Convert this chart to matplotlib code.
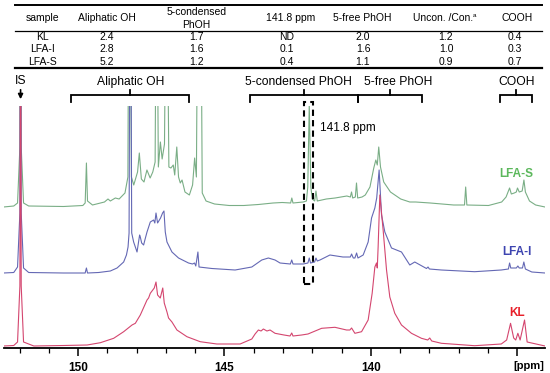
import matplotlib
matplotlib.use("Agg")
import matplotlib.pyplot as plt
from matplotlib.patches import Rectangle
from matplotlib.transforms import blended_transform_factory
from matplotlib.ticker import MultipleLocator, FixedLocator

plt.rcParams['font.family'] = ['Liberation Sans', 'DejaVu Sans']

# ---------------- table data ----------------
table_header = ["sample", "Aliphatic OH", "5-condensed\nPhOH", "141.8 ppm",
                "5-free PhOH", "Uncon. /Con.", "COOH"]
table_samples = ["KL", "LFA-I", "LFA-S"]
aliphatic_oh = ["2.4", "2.8", "5.2"]
condensed_phoh = ["1.7", "1.6", "1.2"]
ppm_141_8 = ["ND", "0.1", "0.4"]
free_phoh = ["2.0", "1.6", "1.1"]
uncon_con = ["1.2", "1.0", "0.9"]
cooh = ["0.4", "0.3", "0.7"]

# ---------------- spectra (ppm, intensity a.u.) ----------------
lfas_ppm = [152.55, 152.2, 152.07, 151.99, 151.967, 151.945, 151.865, 151.69, 150.5, 149.84,
            149.76, 149.717, 149.68, 149.51, 149.10, 148.98, 148.90, 148.73, 148.60, 148.40,
            148.30, 148.25, 148.18, 148.10, 147.97, 147.91, 147.84, 147.75, 147.65, 147.54,
            147.45, 147.37, 147.32, 147.26, 147.19, 147.13, 147.05, 146.98, 146.90, 146.83,
            146.75, 146.70, 146.63, 146.57, 146.51, 146.45, 146.35, 146.20, 146.09, 146.02,
            145.96, 145.90, 145.86, 145.82, 145.76, 145.63, 145.34, 144.84, 144.34, 143.84,
            143.34, 143.03, 142.74, 142.70, 142.66, 142.31, 142.20, 142.155, 142.104, 142.05,
            142.00, 141.92, 141.875, 141.83, 141.52, 141.22, 140.82, 140.70, 140.66, 140.62,
            140.53, 140.49, 140.45, 140.30, 140.19, 140.03, 139.90, 139.83, 139.78, 139.73,
            139.67, 139.56, 139.33, 138.98, 138.67, 138.47, 137.97, 137.17, 136.80, 136.76,
            136.72, 135.98, 135.53, 135.38, 135.26, 135.20, 135.10, 135.03, 134.99, 134.93,
            134.83, 134.77, 134.72, 134.58, 134.37, 134.05]
lfas_int = [0, 1, 4, 60, 400, 60, 4, 1, 0.5, 1.5,
            4, 44, 6, 2, 5, 8, 6, 9, 8, 14,
            30, 400, 30, 22, 35, 54, 28, 25, 37, 29,
            35, 45, 300, 40, 65, 48, 63, 300, 40, 39,
            42, 32, 60, 30, 24, 27, 15, 12, 22, 49,
            30, 300, 120, 300, 14, 6, 3, 1.5, 1.5, 2.5,
            4, 4.5, 4, 9, 4, 5, 6, 20, 103, 20,
            8, 6, 16, 6, 8, 9, 11, 10, 15, 9,
            10, 24, 9, 10, 12, 20, 39, 47, 42, 60,
            40, 25, 15, 8, 5, 5, 4, 2, 2, 20,
            2, 1.5, 5, 10, 19, 13, 14, 15, 19, 15,
            16, 27, 15, 6, 2, 0]

lfai_ppm = [152.55, 152.2, 152.07, 151.99, 151.967, 151.945, 151.865, 151.69, 150.5, 149.76,
            149.717, 149.68, 149.3, 148.9, 148.67, 148.445, 148.35, 148.295, 148.26, 148.217,
            148.17, 148.104, 147.988, 147.900, 147.876, 147.83, 147.763, 147.72, 147.647, 147.535,
            147.422, 147.38, 147.340, 147.286, 147.184, 147.115, 147.068, 147.023, 146.965, 146.795,
            146.570, 146.229, 146.092, 146.024, 145.98, 145.908, 145.87, 145.431, 144.637, 144.067,
            143.726, 143.501, 143.273, 143.102, 142.75, 142.703, 142.66, 142.308, 142.15, 142.104,
            142.06, 141.92, 141.875, 141.83, 141.738, 141.398, 140.954, 140.70, 140.658, 140.60,
            140.545, 140.487, 140.44, 140.262, 140.092, 139.976, 139.863, 139.80, 139.717, 139.635,
            139.522, 139.294, 138.953, 138.670, 138.500, 138.10, 138.046, 138.0, 137.589, 136.454,
            135.544, 135.30, 135.260, 135.22, 135.03, 134.977, 134.93, 134.82, 134.773, 134.72,
            134.5, 134.05]
lfai_int = [0, 0.5, 6, 60, 400, 60, 5, 0.5, 0, 0,
            5, 0, 0.5, 2, 5, 11, 18, 26, 40, 400,
            40, 31, 21, 38, 36, 30, 28, 33, 41, 51,
            53, 50, 60, 50, 55, 60, 62, 41, 31, 21,
            15, 10, 9, 10, 7, 21, 6, 4.5, 3, 6,
            13, 15, 13, 10, 9, 13, 9, 9, 10, 15,
            10, 11, 15, 12, 13, 18, 16, 16, 19, 15,
            15, 20, 15, 18, 31, 55, 65, 75, 103, 58,
            41, 25, 21, 8, 11, 4.5, 6, 4, 3, 1.3,
            3, 4, 10, 5, 5, 7, 5, 5, 11, 4,
            1, 0]

kl_ppm = [152.55, 152.2, 152.07, 151.99, 151.967, 151.945, 151.865, 151.514, 150.5, 149.693,
          149.240, 148.786, 148.445, 148.159, 148.046, 147.876, 147.647, 147.593, 147.535, 147.399,
          147.340, 147.286, 147.194, 147.109, 147.058, 146.965, 146.911, 146.795, 146.625, 146.283,
          145.830, 145.261, 144.466, 144.067, 143.955, 143.842, 143.75, 143.672, 143.55, 143.443,
          143.273, 142.966, 142.761, 142.703, 142.66, 142.363, 142.148, 141.681, 141.227, 140.830,
          140.716, 140.658, 140.545, 140.317, 140.092, 139.955, 139.863, 139.806, 139.78, 139.751,
          139.693, 139.580, 139.464, 139.352, 139.182, 138.953, 138.612, 138.271, 138.056, 137.988,
          137.92, 137.589, 136.454, 135.544, 135.36, 135.227, 135.12, 135.05, 134.977, 134.90,
          134.749, 134.66, 134.05]
kl_int = [0, 0.5, 4, 60, 400, 60, 4, 0, 0.5, 1,
          3.3, 7.7, 14.3, 21, 22.7, 31, 46, 48, 52.7, 58,
          64, 51, 48, 58, 43, 34, 28, 24, 16, 9.3,
          4.3, 2, 2, 7, 12, 16, 15, 17, 15, 16,
          12.7, 11, 10, 13, 10, 11, 12, 17.7, 18.7, 16,
          16, 18, 12.7, 14.3, 26, 52.7, 79, 83, 78, 99,
          151, 116, 76, 49, 32.7, 21, 12.7, 7.7, 6, 8,
          5, 2.7, 0.3, 2, 6, 22.7, 8, 6, 12.7, 6,
          26, 4, 0]

spectra = [("LFA-S", lfas_ppm, lfas_int, 141, "#7aae86", "#5cb85c"),
           ("LFA-I", lfai_ppm, lfai_int, 75, "#6468b4", "#3d44b0"),
           ("KL", kl_ppm, kl_int, 2, "#d4466f", "#e8202a")]

# region name, left ppm, right ppm, label centre ppm
regions = [("Aliphatic OH", 150.24, 146.21, 148.22), ("5-condensed PhOH", 144.13, 140.44, 142.47),
           ("5-free PhOH", 140.44, 138.26, 139.06), ("COOH", 135.60, 134.51, 135.02)]
is_ppm = 151.967
marker_ppm = (142.29, 141.98)

W, H = 550, 373
fig = plt.figure(figsize=(W / 100, H / 100), dpi=100)

def fx(px):
    return px / W

def fy(py):
    return 1 - py / H

ax = fig.add_axes([fx(3.5), fy(348), fx(545) - fx(3.5), fy(106) - fy(348)])
ax.set_xlim(152.55, 134.05)
ax.set_ylim(0, 242)

for name, ppm, inten, off, lc, tc in spectra:
    ax.plot(ppm, [off + v for v in inten], color=lc, lw=0.8, zorder=2)

label_y = {"LFA-S": 173.7, "LFA-I": 96.3, "KL": 35.3}
for name, ppm, inten, off, lc, tc in spectra:
    ax.text(135.02, label_y[name], name, color=tc, fontsize=8.5, fontweight='bold',
            ha='center', va='center')

for s in ['left', 'right', 'top']:
    ax.spines[s].set_visible(False)
ax.spines['bottom'].set_linewidth(1.3)
ax.set_yticks([])
ax.xaxis.set_major_locator(FixedLocator([150, 145, 140, 135]))
ax.set_xticklabels(['150', '145', '140', ''])
ax.xaxis.set_minor_locator(MultipleLocator(1))
ax.tick_params(axis='x', which='major', length=6, width=1.1, direction='out', pad=4,
               labelsize=8.5)
ax.tick_params(axis='x', which='minor', length=3.5, width=0.9, direction='out')
for lab in ax.get_xticklabels():
    lab.set_fontweight('bold')
fig.text(fx(529), fy(366), "[ppm]", fontsize=8, fontweight='bold', ha='center', va='center')

# dashed marker box
rect = Rectangle((marker_ppm[0], 64), marker_ppm[1] - marker_ppm[0], 245.7 - 64,
                 fill=False, ls=(0, (3, 2)), lw=1.5, ec='black', clip_on=False, zorder=3)
ax.add_patch(rect)
ax.text(141.74, 220, "141.8 ppm", fontsize=8.5, ha='left', va='center')

# brackets
tr = blended_transform_factory(ax.transData, fig.transFigure)
for name, a, b, c in regions:
    yb, yd, yt = fy(95), fy(102), fy(90)
    ax.plot([a, a, b, b], [yd, yb, yb, yd], color='black', lw=1.3, transform=tr,
            clip_on=False, solid_joinstyle='miter')
    m = (a + b) / 2
    ax.plot([m, m], [yb, yt], color='black', lw=1.3, transform=tr, clip_on=False)
    ax.text(c, fy(82), name, fontsize=8.7, ha='center', va='center', transform=tr)

# IS arrow
ax.annotate("", xy=(is_ppm, fy(102)), xytext=(is_ppm, fy(87)),
            xycoords=tr, textcoords=tr,
            arrowprops=dict(arrowstyle='-|>', color='black', lw=1.2, mutation_scale=7))
ax.text(is_ppm, fy(81), "IS", fontsize=8.7, ha='center', va='center', transform=tr)

# table
fig.add_artist(plt.Line2D([fx(15), fx(542)], [fy(4.7), fy(4.7)], color='black', lw=1.4))
fig.add_artist(plt.Line2D([fx(15), fx(542)], [fy(30.5), fy(30.5)], color='black', lw=0.9))
fig.add_artist(plt.Line2D([fx(15), fx(542)], [fy(67.5), fy(67.5)], color='black', lw=1.6))
col_x = [42.7, 106.7, 196.7, 287, 363, 446, 515]
head_x = [42.7, 106.7, 196.7, 291, 362.5, 443, 516.7]
for hx, h in zip(head_x, table_header):
    if "\n" in h:
        l1, l2 = h.split("\n")
        fig.text(fx(hx), fy(11.7), l1, fontsize=7.5, ha='center', va='center')
        fig.text(fx(hx), fy(25.3), l2, fontsize=7.5, ha='center', va='center')
    else:
        fig.text(fx(hx), fy(18.3), h, fontsize=7.5, ha='center', va='center')
fig.text(fx(472.5), fy(15.5), "a", fontsize=4.5, ha='left', va='center')
rows_y = [36.7, 49.3, 61.7]
cols = [table_samples, aliphatic_oh, condensed_phoh, ppm_141_8, free_phoh, uncon_con, cooh]
for cx, col in zip(col_x, cols):
    for ry, v in zip(rows_y, col):
        fig.text(fx(cx), fy(ry), v, fontsize=7.5, ha='center', va='center')

fig.savefig("out.png", dpi=100)
